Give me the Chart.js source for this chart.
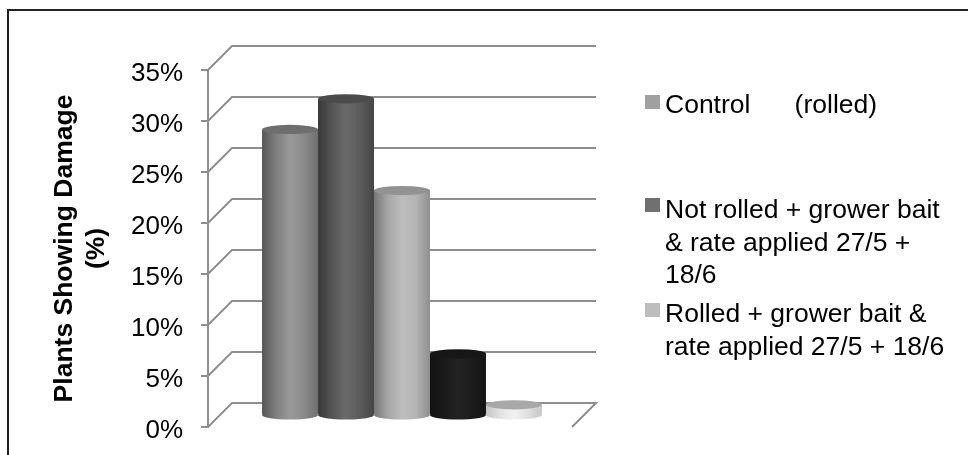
<!DOCTYPE html>
<html>
<head>
<meta charset="utf-8">
<title>Plants Showing Damage</title>
<script src="https://cdn.jsdelivr.net/npm/chart.js@4/dist/chart.umd.min.js"></script>
<style>
  html, body { margin: 0; padding: 0; background: #fff; }
  #wrap { width: 968px; height: 455px; position: relative; }
</style>
</head>
<body>
<div id="wrap"><canvas id="grafico" width="968" height="455"></canvas></div>
<script>
const categorias = ["Plants"];
const serie1 = [0.28];
const serie2 = [0.31];
const serie3 = [0.22];
const serie4 = [0.06];
const serie5 = [0.01];
const tituloEixo = ["Plants Showing Damage", "(%)"];
const legenda1 = ["Control      (rolled)"];
const legenda2 = ["Not rolled + grower bait", "& rate applied 27/5 +", "18/6"];
const legenda3 = ["Rolled + grower bait &", "rate applied 27/5 + 18/6"];

const fonte = "Liberation Sans";
const corGrade = "#8e8e8e";
const profundidade = 24; // deslocamento da parede do fundo (px)
const raioTampa = 4.6; // altura da elipse do cilindro

// cores dos cilindros: gradiente horizontal e tampa
const estilos = [
  { grad: ["#555555", "#7f7f7f", "#9a9a9a", "#8a8a8a", "#707070"], tampa: "#6e6e6e" },
  { grad: ["#383838", "#555555", "#6a6a6a", "#5c5c5c", "#454545"], tampa: "#4b4b4b" },
  { grad: ["#777777", "#a6a6a6", "#bdbdbd", "#b4b4b4", "#8f8f8f"], tampa: "#929292" },
  { grad: ["#111111", "#1a1a1a", "#232323", "#1c1c1c", "#141414"], tampa: "#161616" },
  { grad: ["#c4c4c4", "#e2e2e2", "#f2f2f2", "#e0e0e0", "#c8c8c8"], tampa: "#a8a8a8" },
];
const larguraGrupo = 0.769;

function preenchimento(context) {
  const area = context.chart.chartArea;
  const estilo = estilos[context.datasetIndex];
  if (!area) return estilo.grad[2];
  const larg = (area.width * larguraGrupo) / estilos.length;
  const ini = area.left + (area.width * (1 - larguraGrupo)) / 2 + larg * context.datasetIndex;
  const g = context.chart.ctx.createLinearGradient(ini, 0, ini + larg, 0);
  estilo.grad.forEach((c, i) => g.addColorStop(i / (estilo.grad.length - 1), c));
  return g;
}

// Grade em perspectiva e deslocamento dos cilindros para o meio da caixa
const caixa3d = {
  id: "caixa3d",
  beforeDatasetsDraw(chart) {
    const { ctx, chartArea: a, scales } = chart;
    const d = profundidade;
    ctx.save();
    ctx.strokeStyle = corGrade;
    ctx.lineWidth = 2;
    scales.y.ticks.forEach((t) => {
      const y = scales.y.getPixelForValue(t.value);
      ctx.beginPath();
      ctx.moveTo(a.left, y);
      ctx.lineTo(a.left + d, y - d);
      ctx.lineTo(a.right + d, y - d);
      if (t.value === 0) ctx.lineTo(a.right, y);
      ctx.stroke();
    });
    ctx.restore();
    ctx.save();
    ctx.translate(d / 2, -d / 2);
  },
  afterDatasetsDraw(chart) {
    const { ctx } = chart;
    chart.data.datasets.forEach((ds, i) => {
      const el = chart.getDatasetMeta(i).data[0];
      const base = chart.scales.y.getPixelForValue(0);
      const r = el.width / 2;
      // fundo arredondado
      ctx.fillStyle = el.options.backgroundColor;
      ctx.beginPath();
      ctx.ellipse(el.x, base, r, raioTampa, 0, 0, Math.PI * 2);
      ctx.fill();
      // tampa
      ctx.fillStyle = estilos[i].tampa;
      ctx.beginPath();
      ctx.ellipse(el.x, el.y, r, raioTampa, 0, 0, Math.PI * 2);
      ctx.fill();
    });
    ctx.restore();
  },
};

// Legenda com as posições irregulares do original, e moldura
const legendaFixa = {
  id: "legendaFixa",
  afterDraw(chart) {
    const { ctx } = chart;
    const blocos = [
      { linhas: legenda1, cor: "#a0a0a0", caixa: 95, base: 113 },
      { linhas: legenda2, cor: "#707070", caixa: 198, base: 218 },
      { linhas: legenda3, cor: "#bdbdbd", caixa: 303, base: 322 },
    ];
    ctx.save();
    ctx.font = "26.5px '" + fonte + "'";
    ctx.textBaseline = "alphabetic";
    blocos.forEach((b) => {
      ctx.fillStyle = b.cor;
      ctx.fillRect(645, b.caixa, 15, 14);
      ctx.fillStyle = "#000";
      b.linhas.forEach((l, i) => ctx.fillText(l, 665, b.base + i * 32.5));
    });
    ctx.restore();
  },
  beforeDraw(chart) {
    const { ctx } = chart;
    ctx.save();
    ctx.strokeStyle = "#222";
    ctx.lineWidth = 2;
    ctx.beginPath();
    ctx.moveTo(8, 455);
    ctx.lineTo(8, 10);
    ctx.lineTo(968, 10);
    ctx.stroke();
    ctx.restore();
  },
};

const series = [serie1, serie2, serie3, serie4, serie5];
new Chart(document.getElementById("grafico"), {
  type: "bar",
  data: {
    labels: categorias,
    datasets: series.map((valores) => ({
      data: valores,
      backgroundColor: preenchimento,
      borderWidth: 0,
      barPercentage: 1,
      categoryPercentage: larguraGrupo,
      clip: false,
    })),
  },
  options: {
    responsive: false,
    animation: false,
    layout: { padding: { top: 70, right: 396, bottom: 28, left: 49 } },
    plugins: { legend: { display: false }, tooltip: { enabled: false } },
    scales: {
      x: { display: false },
      y: {
        min: 0,
        max: 0.35,
        afterFit(scale) {
          scale.width = 159;
          scale.paddingTop = 0;
          scale.paddingBottom = 0;
        },
        border: { color: corGrade, width: 2 },
        grid: { drawOnChartArea: false, drawTicks: true, tickLength: 7, color: corGrade, lineWidth: 2 },
        ticks: {
          stepSize: 0.05,
          padding: 18,
          labelOffset: 4,
          color: "#000",
          font: { family: fonte, size: 26 },
          callback: (v) => Math.round(v * 100) + "%",
        },
        title: {
          display: true,
          text: tituloEixo,
          color: "#000",
          font: { family: fonte, size: 26.5, weight: "bold" },
          padding: 0,
        },
      },
    },
  },
  plugins: [caixa3d, legendaFixa],
});
</script>
</body>
</html>
